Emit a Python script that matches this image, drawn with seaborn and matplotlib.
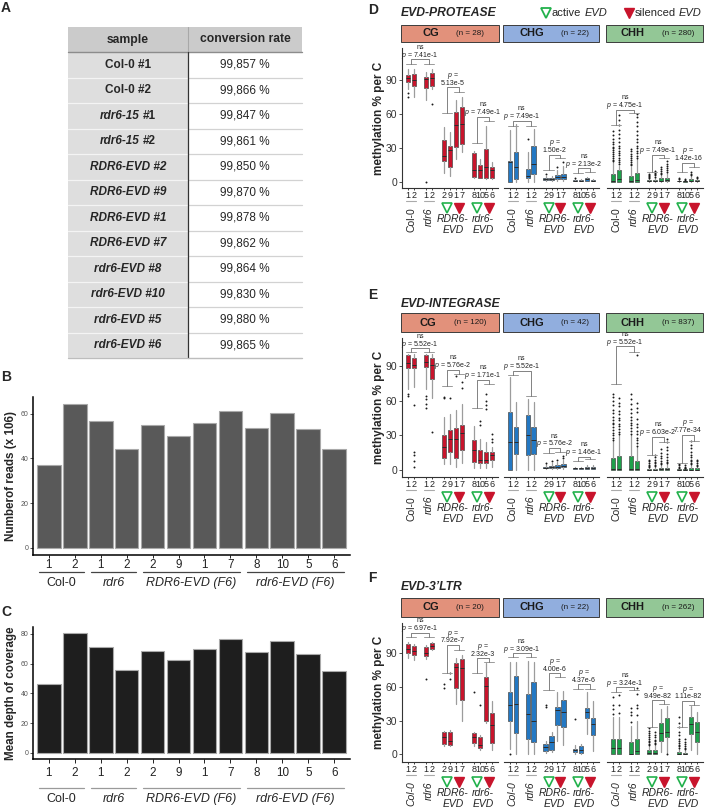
import numpy as np
import matplotlib
matplotlib.use("Agg")
import matplotlib.pyplot as plt
import seaborn as sns
from matplotlib.patches import Rectangle
from matplotlib.transforms import ScaledTranslation, blended_transform_factory

sns.set_theme(style="ticks")
plt.rcParams["font.family"] = ["Liberation Sans", "DejaVu Sans"]
plt.rcParams["mathtext.fontset"] = "custom"
plt.rcParams["mathtext.rm"] = "Liberation Sans"
plt.rcParams["mathtext.it"] = "Liberation Sans:italic"
plt.rcParams["mathtext.bf"] = "Liberation Sans:bold"

# ---------------- data ----------------
# A: bisulfite conversion table
tab_samples = ["Col-0 #1", "Col-0 #2", "rdr6-15 #1", "rdr6-15 #2", "RDR6-EVD #2", "RDR6-EVD #9",
               "RDR6-EVD #1", "RDR6-EVD #7", "rdr6-EVD #8", "rdr6-EVD #10", "rdr6-EVD #5", "rdr6-EVD #6"]
tab_rates = ["99,857 %", "99,866 %", "99,847 %", "99,861 %", "99,850 %", "99,870 %",
             "99,878 %", "99,862 %", "99,864 %", "99,830 %", "99,880 %", "99,865 %"]

# B / C: libraries
lib_ids = ["1", "2", "1", "2", "2", "9", "1", "7", "8", "10", "5", "6"]
lib_groups = ["Col-0", "rdr6", "RDR6-EVD (F6)", "rdr6-EVD (F6)"]
group_sizes = [2, 2, 4, 4]
n_reads = [37.1, 64.3, 56.7, 44.2, 54.9, 50.1, 55.8, 61.2, 53.7, 60.3, 53.0, 44.2]
mean_depth = [46.6, 80.7, 71.3, 55.7, 68.8, 62.7, 69.9, 76.8, 67.6, 75.5, 66.2, 55.0]

# D-F: box statistics per library (low whisker, q1, median, q3, high whisker) + outliers
contexts = ["CG", "CHG", "CHH"]

prot_cg = [(82, 88.5, 92, 94, 100), (75, 85, 90, 95, 100), (72, 83, 90.5, 93, 97), (82, 85, 92, 96, 100),
           (8, 18, 23, 37, 48), (5, 13, 28, 32, 44), (20, 31, 50, 62, 72), (26, 33, 51, 66, 75),
           (3, 4, 10, 25, 27), (3, 3, 10, 15, 20), (2, 3, 13, 29, 49), (2, 3, 10, 13, 17)]
prot_cg_out = [[78.5, 75], [], [0], [69], [], [], [], [], [], [], [], []]
prot_chg = [(0, 0, 17.7, 18.6, 46), (0, 2, 12.7, 26.5, 51), (0, 3.3, 5.3, 11.2, 26), (0, 6.8, 15.6, 31.2, 46.6),
            (1, 1.5, 2, 3, 5), (1, 1.5, 2.2, 3, 5), (1, 2, 4, 6, 10), (1, 2, 4, 7, 14),
            (0.3, 0.6, 1, 1.5, 2.5), (0.3, 0.5, 0.8, 1.2, 2), (0.5, 1, 2, 3, 4.5), (0.3, 0.6, 1, 1.5, 2.5)]
prot_chg_out = [[], [], [37.8], [], [6.5], [], [12.7], [17.7], [3.5], [], [], []]
prot_chh = [(0, 0, 1, 7, 17), (0, 0, 2.5, 10, 14), (0, 0, 1, 5, 13), (0, 0, 1.5, 8, 20),
            (0, 0.3, 0.6, 1.5, 3), (0, 0.3, 0.6, 1.8, 4), (0, 0.5, 1, 3, 6), (0, 0.5, 1.2, 3.5, 8),
            (0, 0.2, 0.4, 1, 2), (0, 0.1, 0.3, 0.6, 1.2), (0, 0.5, 1, 2.5, 5), (0, 0.3, 0.6, 1.5, 3)]
prot_chh_out = [[18, 19.5, 21, 23, 24.5, 26, 28, 29.5, 31, 33, 35, 38, 41, 45],
                [16, 17.5, 19, 21, 23.5, 25, 27, 30, 32, 35, 39, 42, 46, 50, 55, 59],
                [14.5, 16, 17.5, 19, 21, 22.5, 24.5, 27, 29],
                [21, 23, 25, 27.5, 30, 32, 35, 38, 41, 45, 49, 53, 57, 60],
                [3.5, 4, 5, 6, 7], [4.5, 5.5, 6.5, 8, 9.5], [7, 8, 9.5, 11, 13], [9, 10, 12, 14, 16, 18],
                [2.5, 3], [1.5, 2], [6, 7, 8.5], [3.5, 4.5]]

int_cg = [(70, 88, 92, 99, 100), (72, 88, 91, 97, 100), (70, 89, 93, 99, 100), (62, 79, 91, 97, 100),
          (5, 10, 20, 30, 46), (5, 16, 27, 35, 48), (3, 10, 27, 36, 52), (6, 17, 32, 39, 57),
          (2, 7, 17, 26, 38), (2, 6, 9, 17, 27), (2, 6, 9, 16, 24), (3, 9, 13, 16, 20)]
int_cg_out = [[66, 64], [56, 16, 13, 8, 3], [64, 61, 57, 54], [33], [63, 62], [62], [81], [76, 71],
              [], [42, 39], [66, 60, 56, 53], [24, 27, 31]]
int_chg = [(0, 0, 24.5, 50, 80), (0, 14, 24.5, 37.5, 59), (0, 13, 30, 47.6, 61), (0, 14, 26, 37.5, 59),
           (1, 1.5, 2, 3, 5), (1, 2, 2.5, 3.5, 6), (1, 2, 3, 4, 7), (1, 2.5, 3.5, 5, 9),
           (0.5, 1, 1.5, 2, 3), (0.5, 1, 1.5, 2, 3), (0.5, 1, 2, 3, 4), (0.5, 1, 1.5, 2.5, 4)]
int_chg_out = [[], [], [], [], [6.5], [8], [9], [10.5, 12], [], [], [], []]
int_chh = [(0, 0, 0.5, 10, 25), (0, 0, 1, 12, 30), (0, 0, 1, 12, 30), (0, 0, 0.5, 8, 20),
           (0, 0, 0.3, 1, 2), (0, 0, 0.4, 1.2, 3), (0, 0, 0.5, 2, 4), (0, 0, 0.6, 2, 5),
           (0, 0, 0.2, 0.8, 1.5), (0, 0, 0.2, 0.6, 1.3), (0, 0, 0.4, 2, 4), (0, 0, 0.3, 1.5, 3)]
int_chh_out = [[26, 28, 30.5, 32, 35, 37, 39.5, 41, 43, 46, 49, 52, 56, 60, 63, 66],
               [31, 33, 35.5, 38, 40, 43, 45, 48, 51, 55, 58, 62],
               [31, 34, 36, 38.5, 41, 43, 46, 49, 53, 57, 61, 66],
               [21, 23, 26, 28, 31, 34, 37, 40, 44, 50, 54, 58, 99.5],
               [2.5, 3.5, 4.5, 6, 7.5, 9], [3.5, 4.5, 6, 7, 9, 11, 13], [5, 6.5, 8, 10, 12, 15, 18],
               [6, 7, 9, 11, 14, 17, 20, 24, 27], [2, 3, 4, 5], [1.6, 2.2, 3, 4],
               [5, 6, 7.5, 9, 11, 13, 16, 19, 22, 25], [3.5, 4.5, 6, 7.5, 9]]

ltr_cg = [(86, 90, 94, 98, 100), (84, 88, 92, 96, 98), (85, 87, 90, 95, 97), (93, 94, 96, 99, 100),
          (7, 9.5, 15, 20, 21), (7, 8, 12, 20, 22), (45, 59, 78, 81, 86), (30, 48, 77, 85, 88),
          (7, 10, 15, 19, 20), (4, 5.3, 8, 15, 17), (28, 30, 61, 69, 81), (4, 10, 26, 37, 47)]
ltr_cg_out = [[], [], [67], [], [62.4, 58.8], [72, 66.8], [], [], [55.5], [44], [], []]
ltr_chg = [(5, 30, 44, 55, 82), (0, 19, 45, 70, 82), (0, 14, 36, 54, 83), (0, 11, 30, 64, 82),
           (1, 3, 6.5, 9.5, 12), (2, 4, 11, 16, 20), (12, 26, 39, 42, 55), (8, 24, 38, 48, 56),
           (0.5, 2, 3.5, 5, 8), (0.5, 1.5, 4, 7, 9), (18, 32, 38, 41, 55), (3, 17, 27, 32, 47)]
ltr_chg_out = [[0], [], [], [], [44, 42], [], [], [], [31], [], [], []]
ltr_chh = [(0, 0, 5.3, 13.4, 33), (0, 0, 5.9, 13.7, 33), (0, 0, 0.5, 10.7, 25), (0, 0, 3, 14, 30),
           (0, 0, 1.5, 3.6, 7), (0, 0, 1.5, 4, 8), (2, 12, 19, 28, 40), (1, 15, 20, 32, 43),
           (0, 0, 0.5, 2, 5), (0, 0, 0.4, 1.5, 4), (4, 18, 27, 33, 43), (0, 11, 20, 29, 38)]
ltr_chh_out = [[36, 40, 43.7, 51], [37, 44, 53], [29, 35, 38, 41], [35, 41, 44, 54, 58.8],
               [8, 9, 10.5, 12, 13.5, 15, 17, 19, 21, 23], [9, 10, 11.5, 13, 15, 17, 20], [], [0],
               [6, 7, 8.5, 10, 12, 14, 17, 20, 24, 28, 33], [5, 6, 7.5, 9, 11, 14], [], []]

prot_n = [28, 22, 280]
int_n = [120, 42, 837]
ltr_n = [20, 22, 262]

# comparison brackets: (left cap, right cap, top) and p values
prot_brk = [[(104, 104, 108.3), (60.5, 79.6, 83.5), (34, 54, 57.5)],
            [(49, 49, 54), (10.4, 20.7, 23.6), (7.4, 8.9, 11.8)],
            [(50, 60.5, 63.5), (8.9, 20.7, 23.6), (8.9, 12.7, 16.8)]]
prot_p = [["7.41e-1", "5.13e-5", "7.49e-1"], ["7.49e-1", "1.50e-2", "2.13e-2"], ["4.75e-1", "7.49e-1", "1.42e-16"]]
prot_ns = [[1, 0, 1], [1, 0, 1], [1, 1, 0]]
int_brk = [[(101.5, 101.5, 105), (72.7, 82.8, 86.5), (53.4, 74.1, 77.9)],
           [(82.2, 64, 85.9), (14.4, 15.8, 18.8), (8, 9.2, 11.5)],
           [(74, 101.5, 106.7), (13, 24.5, 28.8), (5.8, 25.4, 30.3)]]
int_p = [["5.52e-1", "5.76e-2", "1.71e-1"], ["5.52e-1", "5.76e-2", "1.46e-1"], ["5.52e-1", "6.03e-2", "7.77e-34"]]
int_ns = [[1, 1, 1], [1, 1, 1], [1, 1, 0]]
ltr_brk = [[(104.5, 104.5, 108), (72, 92.7, 97), (72, 82.3, 85.3)],
           [(86.2, 86.2, 89.7), (57, 68.9, 71.9), (58, 58.5, 62.1)],
           [(55.5, 57, 59.5), (24.3, 44.6, 48), (24.3, 43.7, 47.2)]]
ltr_p = [["6.97e-1", "7.92e-7", "2.32e-3"], ["3.09e-1", "4.00e-6", "4.37e-6"], ["3.24e-1", "9.49e-82", "1.11e-82"]]
ltr_ns = [[1, 0, 0], [1, 0, 0], [1, 0, 0]]

# ---------------- styles ----------------
box_cols = ["#c8142c", "#2378c3", "#1ea04b"]
strip_cols = ["#e2917b", "#91aede", "#93c796"]
GREEN = "#22b14c"
RED = "#c8142c"

W, H = 705, 810
fig = plt.figure(figsize=(W / 100, H / 100), dpi=100)
ov = fig.add_axes([0, 0, 1, 1])
ov.set_xlim(0, W)
ov.set_ylim(H, 0)
ov.axis("off")


def px_axes(x0, y0, x1, y1):
    a = fig.add_axes([x0 / W, 1 - y1 / H, (x1 - x0) / W, (y1 - y0) / H])
    a.patch.set_alpha(0)
    return a


def rich(x, y, parts, gap=0, ha="center", **kw):
    r = fig.canvas.get_renderer()
    items = []
    for s, st in parts:
        t = ov.text(x, y, s, ha="left", va="center", **{**kw, **st})
        items.append((t, t.get_window_extent(r).width))
    total = sum(w for _, w in items) + gap * (len(items) - 1)
    off = -total / 2 if ha == "center" else 0
    for t, w in items:
        t.set_transform(ov.transData + ScaledTranslation(off / fig.dpi, 0, fig.dpi_scale_trans))
        off += w + gap


# ---------------- A: table ----------------
ov.text(1, 8, "A", fontsize=10, fontweight="bold", va="center")
tx0, tx1, tx2 = 68, 188, 302
ty0, head_h, row_h = 27, 25, 25.5
ov.add_patch(Rectangle((tx0, ty0), tx2 - tx0, head_h, fc="#cbcbcb", ec="none"))
ov.text((tx0 + tx1) / 2, ty0 + head_h / 2, "sample", ha="center", va="center", fontsize=8.7, fontweight="bold")
ov.text((tx1 + tx2) / 2, ty0 + head_h / 2, "conversion rate", ha="center", va="center", fontsize=8.7,
        fontweight="bold")
for i, (s, rate) in enumerate(zip(tab_samples, tab_rates)):
    y = ty0 + head_h + i * row_h
    ov.add_patch(Rectangle((tx0, y), tx1 - tx0, row_h, fc="#dedede", ec="none"))
    ov.plot([tx0, tx1], [y + row_h] * 2, color="#f4f4f4", lw=0.9)
    ov.plot([tx1, tx2], [y + row_h] * 2, color="#d2d2d2", lw=0.9)
    cy = y + row_h / 2
    name, num = s.rsplit(" ", 1)
    if name.startswith("Col"):
        ov.text((tx0 + tx1) / 2, cy, s, ha="center", va="center", fontsize=8.5, fontweight="bold")
    elif name == "rdr6-15":
        rich((tx0 + tx1) / 2, cy, [(name, {"fontstyle": "italic"}), (num, {})], gap=3,
             fontsize=8.5, fontweight="bold")
    else:
        ov.text((tx0 + tx1) / 2, cy, s, ha="center", va="center", fontsize=8.5, fontweight="bold",
                fontstyle="italic")
    ov.text((tx1 + tx2) / 2, cy, rate, ha="center", va="center", fontsize=8.5)
ov.plot([tx0, tx2], [ty0 + head_h] * 2, color="#8c8c8c", lw=1.0)
ov.plot([tx1, tx1], [ty0, ty0 + head_h], color="#a8a8a8", lw=0.8)
ov.plot([tx1, tx1], [ty0 + head_h, ty0 + head_h + 12 * row_h], color="#333333", lw=0.9)
ov.plot([tx0, tx2], [ty0 + head_h + 12 * row_h] * 2, color="#bdbdbd", lw=0.9)


# ---------------- B / C: bar charts ----------------
def bar_panel(ax, vals, color, ylim, yticks, ylabel, tick_len, tick_pad, y_line, y_lab, line_col):
    xs = list(range(len(vals)))
    sns.barplot(x=xs, y=vals, color=color, saturation=1, width=0.92, edgecolor="#a9a9a9",
                linewidth=0.8, ax=ax)
    ax.set_xlim(-0.6, len(vals) - 0.4)
    ax.set_ylim(*ylim)
    ax.set_yticks(yticks)
    ax.set_xticks(xs, lib_ids)
    ax.set_xlabel("")
    ax.set_ylabel(ylabel, fontsize=8.4, fontweight="bold", labelpad=3)
    ax.tick_params(axis="y", labelsize=5, colors="#555555", length=2, width=0.7, pad=1)
    ax.tick_params(axis="x", labelsize=8.4, colors="#222222", length=tick_len, width=0.7, pad=tick_pad)
    sns.despine(ax=ax)
    for sp in ("left", "bottom"):
        ax.spines[sp].set_color("black")
        ax.spines[sp].set_linewidth(1.1)
    bt = blended_transform_factory(ax.transData, ov.transData)
    start = 0
    for g, n in zip(lib_groups, group_sizes):
        ax.plot([start - 0.35, start + n - 1 + 0.35], [y_line, y_line], color=line_col, lw=0.9,
                transform=bt, clip_on=False)
        ax.text(start + (n - 1) / 2, y_lab, g, ha="center", va="center", fontsize=9,
                fontstyle="normal" if g == "Col-0" else "italic", transform=bt)
        start += n


ov.text(1, 377, "B", fontsize=10, fontweight="bold", va="center")
axB = px_axes(33, 397, 350, 555)
bar_panel(axB, n_reads, "#595959", (-3.2, 67.5), [0, 20, 40, 60], "Numberof reads (x 106)",
          2, 1.2, 572, 583, "#444444")

ov.text(1, 612, "C", fontsize=10, fontweight="bold", va="center")
axC = px_axes(33, 627, 350, 759)
bar_panel(axC, mean_depth, "#1e1e1e", (-4.2, 84.7), [0, 20, 40, 60, 80], "Mean depth of coverage",
          3, 2.5, 788, 799, "#9a9a9a")

# ---------------- D-F: methylation boxplots ----------------
box_pos = []
p = 0
for g in group_sizes:
    box_pos += list(range(p, p + g))
    p += g + 1
pair_c = [float(np.mean(box_pos[i:i + 2])) for i in range(0, 12, 2)]
panel_x = [(402, 498), (504, 599), (607, 703)]
strip_x = [(401, 499), (503, 599), (606, 703)]


def bracket(ax, xl, xr, brk, pv, ns):
    hl, hr, ht = brk
    ax.plot([xl - 0.85, xl + 0.85], [hl, hl], color="#9a9a9a", lw=0.7, clip_on=False)
    ax.plot([xr - 0.85, xr + 0.85], [hr, hr], color="#9a9a9a", lw=0.7, clip_on=False)
    ax.plot([xl, xl, xr, xr], [hl, ht, ht, hr], color="#6e6e6e", lw=0.6, clip_on=False)
    lines = ["ns", "$p$ = " + pv] if ns else ["$p$ =", pv]
    xc = (xl + xr) / 2
    for dy, s in zip([7.6, 2.0], lines):
        ax.text(xc, ht, s, ha="center", va="baseline", fontsize=5, color="#222222", clip_on=False,
                transform=ax.transData + ScaledTranslation(0, dy / 72, fig.dpi_scale_trans))


def meth_block(letter, title, y_letter, y_title, strip_y, plot_y, ylim, stats, fliers, ns_list,
               brks, pvals, nsig, col0_italic=False):
    ov.text(368, y_letter, letter, fontsize=10, fontweight="bold", va="center")
    ov.text(401, y_title, title, fontsize=8.7, fontweight="bold", fontstyle="italic", va="center")
    ov.text(379, (plot_y[0] + plot_y[1]) / 2, "methylation % per C", rotation=90, ha="center",
            va="center", fontsize=8.5, fontweight="bold")
    for j in range(3):
        sx0, sx1 = strip_x[j]
        ov.add_patch(Rectangle((sx0, strip_y[0]), sx1 - sx0, strip_y[1] - strip_y[0],
                               fc=strip_cols[j], ec="#3c3c3c", lw=0.7))
        rich((sx0 + sx1) / 2 + 3, (strip_y[0] + strip_y[1]) / 2,
             [(contexts[j], {"fontweight": "bold", "fontsize": 8}),
              ("(n = %d)" % ns_list[j], {"fontsize": 5.8})], gap=17, color="#1a1a1a")

        x0, x1 = panel_x[j]
        ax = px_axes(x0, plot_y[0], x1, plot_y[1])
        st = [dict(whislo=s[0], q1=s[1], med=s[2], q3=s[3], whishi=s[4], fliers=np.array(f, dtype=float))
              for s, f in zip(stats[j], fliers[j])]
        ax.bxp(st, positions=box_pos, widths=0.74, patch_artist=True, showcaps=False, manage_ticks=False,
               boxprops=dict(facecolor=box_cols[j], edgecolor="#4a4a4a", linewidth=0.5),
               medianprops=dict(color="#2b2b2b", linewidth=0.7),
               whiskerprops=dict(color="#9c9c9c", linewidth=0.9),
               flierprops=dict(marker="o", markersize=1.4, markerfacecolor="#1a1a1a",
                               markeredgecolor="none"))
        ax.set_xlim(-1, 15)
        ax.set_ylim(*ylim)
        ax.set_xticks(box_pos, lib_ids)
        ax.tick_params(axis="x", length=1.5, width=0.6, pad=0.6, labelsize=6.5, colors="#222222")
        for sp in ("top", "right"):
            ax.spines[sp].set_visible(False)
        ax.spines["bottom"].set_color("#333333")
        ax.spines["bottom"].set_linewidth(0.8)
        if j == 0:
            ax.set_yticks([0, 30, 60, 90])
            ax.tick_params(axis="y", length=2, width=0.6, pad=1.5, labelsize=7.5, colors="#333333")
            ax.spines["left"].set_color("#333333")
            ax.spines["left"].set_linewidth(0.8)
        else:
            ax.spines["left"].set_visible(False)
            ax.tick_params(axis="y", left=False, labelleft=False)

        for k in range(3):
            bracket(ax, pair_c[2 * k], pair_c[2 * k + 1], brks[j][k], pvals[j][k], nsig[j][k])

        bt = blended_transform_factory(ax.transData, ov.transData)
        yb = plot_y[1]
        for c in pair_c[:2]:
            ax.plot([c - 0.85, c + 0.85], [yb + 12.5] * 2, color="#aaaaaa", lw=0.8, transform=bt,
                    clip_on=False)
        ax.text(pair_c[0], yb + 19, "Col-0", rotation=90, ha="center", va="top", fontsize=7.5,
                fontstyle="italic" if col0_italic else "normal", transform=bt)
        ax.text(pair_c[1], yb + 19, "rdr6", rotation=90, ha="center", va="top", fontsize=7.5,
                fontstyle="italic", transform=bt)
        for c in pair_c[2::2]:
            ax.plot([c], [yb + 19.5], marker="v", ms=7, mfc="white", mec=GREEN, mew=1.2, ls="none",
                    transform=bt, clip_on=False)
        for c in pair_c[3::2]:
            ax.plot([c], [yb + 19.5], marker="v", ms=7, mfc=RED, mec=RED, mew=1.0, ls="none",
                    transform=bt, clip_on=False)
        for k, name in enumerate(["RDR6-\nEVD", "rdr6-\nEVD"]):
            cx = float(np.mean(box_pos[4 + 4 * k:8 + 4 * k]))
            ax.text(cx, yb + 26, name, ha="center", va="top", fontsize=7.5, fontstyle="italic",
                    linespacing=1.1, transform=bt)


meth_block("D", "EVD-PROTEASE", 10, 13, (25, 42), (48, 188), (-5.6, 118.3),
           [prot_cg, prot_chg, prot_chh], [prot_cg_out, prot_chg_out, prot_chh_out], prot_n,
           prot_brk, prot_p, prot_ns)
meth_block("E", "EVD-INTEGRASE", 295, 304, (313, 332), (338, 477), (-6, 114),
           [int_cg, int_chg, int_chh], [int_cg_out, int_chg_out, int_chh_out], int_n,
           int_brk, int_p, int_ns)
meth_block("F", "EVD-3\u2019LTR", 578, 587, (598, 617), (623, 762), (-6.9, 116.8),
           [ltr_cg, ltr_chg, ltr_chh], [ltr_cg_out, ltr_chg_out, ltr_chh_out], ltr_n,
           ltr_brk, ltr_p, ltr_ns, col0_italic=True)

# legend for D
ov.plot([545.5], [13], marker="v", ms=7.5, mfc="white", mec=GREEN, mew=1.3, ls="none")
rich(552, 13, [("active", {}), ("EVD", {"fontstyle": "italic"})], gap=3, ha="left", fontsize=8)
ov.plot([628.5], [13], marker="v", ms=7.5, mfc=RED, mec=RED, mew=1.0, ls="none")
rich(635, 13, [("silenced", {}), ("EVD", {"fontstyle": "italic"})], gap=3, ha="left", fontsize=8)

fig.savefig("out.png", dpi=100)
